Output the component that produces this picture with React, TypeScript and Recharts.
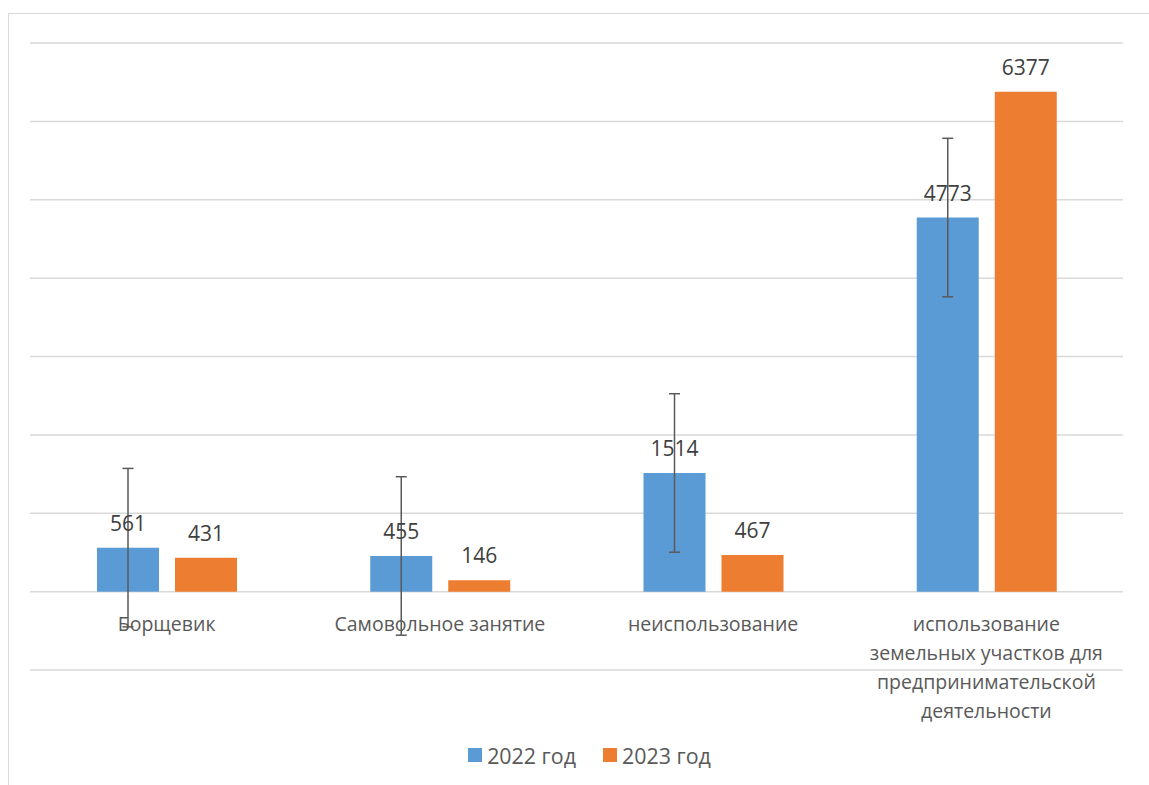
import React from 'react';
import { Bar, BarChart, CartesianGrid, ErrorBar, LabelList, Legend, Text, XAxis, YAxis } from 'recharts';

// non-breaking spaces keep "земельных участков для" on one line, as in the original
const categories = [
  'Борщевик',
  'Самовольное занятие',
  'неиспользование',
  'использование земельных\u00A0участков\u00A0для предпринимательской деятельности',
];
const values2022 = [561, 455, 1514, 4773];
const values2023 = [431, 146, 467, 6377];
const errors2022 = [1011, 1011, 1011, 1011];
const yTicks = [-1000, 0, 1000, 2000, 3000, 4000, 5000, 6000, 7000];

const data = categories.map((name, i) => ({
  name,
  y2022: values2022[i],
  y2023: values2023[i],
  err: errors2022[i],
}));

const FONT = '"Open Sans", "Noto Sans", sans-serif';
const CAT_FS = 19.5;
const LABEL_FS = 21;
const LEGEND_FS = 21.4;
const W = 1140;
const H = 771;
const MARGIN = { top: 29, right: 26, bottom: 85, left: 21 };
const X_AXIS_H = 30;
const PLOT_H = H - MARGIN.top - MARGIN.bottom - X_AXIS_H;
const Y_MIN = yTicks[0];
const Y_MAX = yTicks[yTicks.length - 1];

function CategoryTick(props: any) {
  const { x, payload } = props;
  // labels sit under the zero line, like in Excel
  const zeroY = MARGIN.top + (PLOT_H * Y_MAX) / (Y_MAX - Y_MIN);
  return (
    <Text
      x={x}
      y={zeroY + 39 - 0.71 * CAT_FS}
      width={254}
      textAnchor="middle"
      verticalAnchor="start"
      lineHeight={29}
      fill="#595959"
      style={{ fontFamily: FONT, fontSize: CAT_FS }}
    >
      {payload.value}
    </Text>
  );
}

function renderLegend(props: any) {
  const { payload = [] } = props;
  return (
    <div
      style={{
        display: 'flex',
        justifyContent: 'center',
        alignItems: 'center',
        gap: 27,
        paddingLeft: 21,
        height: 28,
        fontFamily: FONT,
        fontSize: LEGEND_FS,
        color: '#595959',
      }}
    >
      {payload.map((entry: any) => (
        <span key={entry.value} style={{ display: 'flex', alignItems: 'center' }}>
          <span style={{ width: 14, height: 14, background: entry.color, marginRight: 5 }} />
          {entry.value}
        </span>
      ))}
    </div>
  );
}

export default function App() {
  return (
    <>
      <style>{'html,body{margin:0;overflow:hidden;background:#fff}'}</style>
      <div
        style={{
          position: 'absolute',
          left: 8,
          top: 13,
          width: W,
          height: H,
          borderLeft: '1.5px solid #D9D9D9',
          borderTop: '1.5px solid #D9D9D9',
        }}
      >
        <BarChart width={W} height={H} data={data} margin={MARGIN} barSize={62} barGap={16}>
          <CartesianGrid vertical={false} stroke="#D9D9D9" strokeWidth={1.5} />
          <XAxis
            dataKey="name"
            height={X_AXIS_H}
            axisLine={false}
            tickLine={false}
            interval={0}
            tick={(p: any) => <CategoryTick {...p} />}
          />
          <YAxis hide domain={[Y_MIN, Y_MAX]} ticks={yTicks} allowDataOverflow />
          <Legend
            verticalAlign="middle"
            align="center"
            content={renderLegend}
            wrapperStyle={{ top: 727, left: 0, width: W }}
          />
          <Bar dataKey="y2022" name="2022 год" fill="#5B9BD5" isAnimationActive={false}>
            <LabelList
              dataKey="y2022"
              position="top"
              offset={17}
              fill="#404040"
              style={{ fontFamily: FONT, fontSize: LABEL_FS }}
            />
            <ErrorBar dataKey="err" direction="y" width={5.5} stroke="#595959" strokeWidth={1.5} />
          </Bar>
          <Bar dataKey="y2023" name="2023 год" fill="#ED7D31" isAnimationActive={false}>
            <LabelList
              dataKey="y2023"
              position="top"
              offset={17}
              fill="#404040"
              style={{ fontFamily: FONT, fontSize: LABEL_FS }}
            />
          </Bar>
        </BarChart>
      </div>
    </>
  );
}
